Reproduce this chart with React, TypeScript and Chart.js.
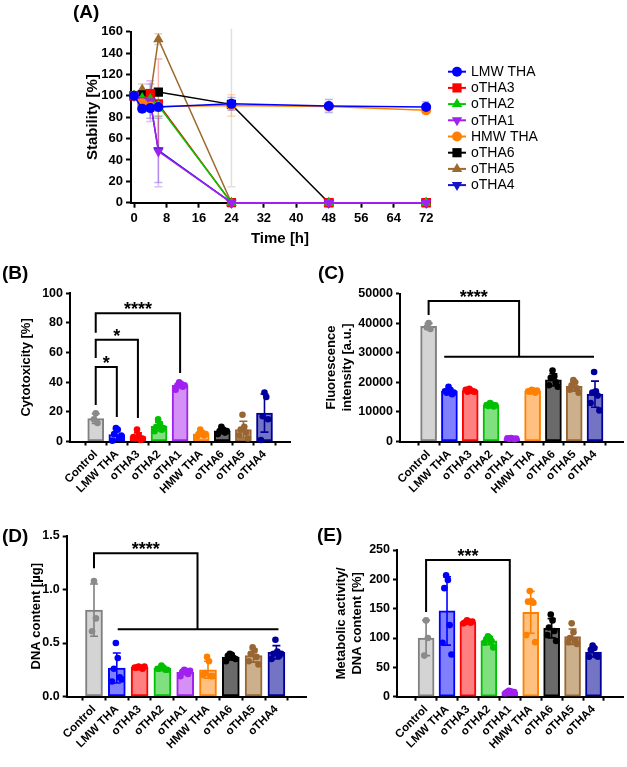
import React, { useEffect, useRef } from "react";
import { Chart, registerables } from "chart.js";

Chart.register(...registerables);

const FONT = "'Liberation Sans', Arial, Helvetica, sans-serif";
Chart.defaults.font.family = FONT;
Chart.defaults.color = "#000";

/* ---------------- (A) stability over time ---------------- */
const HOURS = [0, 2, 4, 6, 24, 48, 72];
const HOUR_TICKS = [0, 8, 16, 24, 32, 40, 48, 56, 64, 72];

const LMW_STAB = [100, 88, 88.5, 89.5, 92.5, 90.5, 89.5];
const LMW_STAB_SD = [0, 3, 3, 4, 6, 6, 5];
const OTHA3_STAB = [100, 95, 102, 92.5, 0, 0, 0];
const OTHA3_STAB_SD = [0, 5, 4, 42, 0, 0, 0];
const OTHA2_STAB = [100, 98, 97, 91, 0, 0, 0];
const OTHA2_STAB_SD = [0, 3, 3, 10, 0, 0, 0];
const OTHA1_STAB = [100, 96, 95, 48, 0, 0, 0];
const OTHA1_STAB_SD = [0, 4, 19, 33, 0, 0, 0];
const HMW_STAB = [100, 93, 90, 90, 91, 90, 86.5];
const HMW_STAB_SD = [0, 3, 3, 3, 10, 4, 4];
const OTHA6_STAB = [100, 101, 102, 103.5, 92, 0, 0];
const OTHA6_STAB_SD = [0, 3, 3, 3, 77, 0, 0];
const OTHA5_STAB = [100, 106, 100, 153, 0, 0, 0];
const OTHA5_STAB_SD = [0, 5, 6, 5, 0, 0, 0];
const OTHA4_STAB = [100, 93, 95, 49, 0, 0, 0];
const OTHA4_STAB_SD = [0, 4, 16, 30, 0, 0, 0];

/* ---------------- (B)-(E) group comparisons ---------------- */
const GROUPS = ["Control", "LMW THA", "oTHA3", "oTHA2", "oTHA1", "HMW THA", "oTHA6", "oTHA5", "oTHA4"];

const CYTOTOXICITY = [
  [19, 12.5, 15],
  [9, 8, 5, 2, 0.5, 4],
  [8, 4, 2, 1, 3, 2],
  [15, 12, 10, 8, 7, 9],
  [40, 39, 38, 37, 35, 38],
  [8, 6, 5, 4, 3, 5],
  [10, 8, 7, 6, 5, 7],
  [18, 10, 8, 6, 4, 2],
  [33, 30, 17, 15, 1],
];

const FLUORESCENCE = [
  [40000, 38000, 38600],
  [18500, 17500, 16500, 16000, 17000, 16500],
  [17800, 17200, 16800, 17000, 17500, 16800],
  [13000, 12500, 12000, 11800, 12300, 12200],
  [1200, 1000, 900, 800, 1100, 1000],
  [17500, 17200, 16800, 16500, 17000, 17200],
  [24000, 22000, 21500, 20000, 19000, 18500],
  [20800, 20000, 19000, 18000, 17500, 16500],
  [23500, 17000, 16500, 15500, 13000, 10500],
];

const DNA_CONTENT = [
  [1.08, 0.73, 0.61],
  [0.5, 0.36, 0.26, 0.18, 0.14, 0.16],
  [0.28, 0.27, 0.27, 0.26, 0.27, 0.28],
  [0.29, 0.27, 0.26, 0.25, 0.26, 0.25],
  [0.25, 0.24, 0.23, 0.21, 0.19, 0.24],
  [0.37, 0.33, 0.22, 0.19, 0.2, 0.19],
  [0.4, 0.39, 0.38, 0.36, 0.33, 0.35],
  [0.46, 0.43, 0.4, 0.37, 0.33, 0.3],
  [0.53, 0.42, 0.4, 0.38, 0.35, 0.4],
];

const METABOLIC_PER_DNA = [
  [130, 100, 70],
  [207, 199, 185, 122, 92, 72],
  [130, 128, 127, 126, 125, 128],
  [103, 100, 98, 95, 92, 84],
  [10, 9, 8, 7, 6, 8],
  [180, 163, 162, 160, 105, 93],
  [140, 130, 118, 112, 105, 95],
  [125, 110, 100, 96, 93, 90],
  [87, 83, 80, 70, 68, 68],
];

/* ---------------- styling ---------------- */
const EDGE = ["#808080", "#0000ff", "#ff0000", "#00c000", "#a020f0", "#ff8000", "#000000", "#996633", "#000099"];
const FILL = ["#d4d4d4", "#8080ff", "#ff8080", "#80e080", "#d490f5", "#ffc080", "#6a6a6a", "#ccb08c", "#7474c4"];
const DOT = ["#8a8a8a", "#0000ff", "#ff0000", "#00c000", "#a020f0", "#ff8000", "#000000", "#996633", "#000099"];

type Marker = "circle" | "rect" | "triangle" | "triangleDown";

const STAB_SERIES: { label: string; values: number[]; sd: number[]; color: string; marker: Marker; layer: number }[] = [
  { label: "LMW THA", values: LMW_STAB, sd: LMW_STAB_SD, color: "#0000ff", marker: "circle", layer: 0 },
  { label: "oTHA3", values: OTHA3_STAB, sd: OTHA3_STAB_SD, color: "#ff0000", marker: "rect", layer: 4 },
  { label: "oTHA2", values: OTHA2_STAB, sd: OTHA2_STAB_SD, color: "#00c800", marker: "triangle", layer: 3 },
  { label: "oTHA1", values: OTHA1_STAB, sd: OTHA1_STAB_SD, color: "#a020f0", marker: "triangleDown", layer: 2 },
  { label: "HMW THA", values: HMW_STAB, sd: HMW_STAB_SD, color: "#ff8000", marker: "circle", layer: 1 },
  { label: "oTHA6", values: OTHA6_STAB, sd: OTHA6_STAB_SD, color: "#000000", marker: "rect", layer: 5 },
  { label: "oTHA5", values: OTHA5_STAB, sd: OTHA5_STAB_SD, color: "#9c6a2c", marker: "triangle", layer: 6 },
  { label: "oTHA4", values: OTHA4_STAB, sd: OTHA4_STAB_SD, color: "#1414c8", marker: "triangleDown", layer: 7 },
];

const MARKER_RADIUS: Record<Marker, number> = { circle: 5, rect: 6.5, triangle: 6, triangleDown: 6 };

function rgba(hex: string, a: number) {
  const n = parseInt(hex.slice(1), 16);
  return `rgba(${(n >> 16) & 255},${(n >> 8) & 255},${n & 255},${a})`;
}

function drawMarker(ctx: CanvasRenderingContext2D, m: Marker, x: number, y: number, color: string) {
  const r = MARKER_RADIUS[m];
  ctx.fillStyle = color;
  ctx.beginPath();
  if (m === "circle") {
    ctx.arc(x, y, r, 0, Math.PI * 2);
  } else if (m === "rect") {
    const s = r / Math.SQRT2;
    ctx.rect(x - s, y - s, 2 * s, 2 * s);
  } else {
    const dir = m === "triangle" ? 1 : -1;
    for (let k = 0; k < 3; k++) {
      const a = (k * 2 * Math.PI) / 3;
      const px = x + Math.sin(a) * r * dir;
      const py = y - Math.cos(a) * r * dir;
      if (k === 0) ctx.moveTo(px, py);
      else ctx.lineTo(px, py);
    }
    ctx.closePath();
  }
  ctx.fill();
}

const axisGrid = { drawOnChartArea: false, drawTicks: true, tickLength: 5, tickColor: "#000", tickWidth: 2 };
const axisBorder = { display: true, color: "#000", width: 2 };

function stabilityConfig(): any {
  const W = 627;
  const H = 250;
  const area = { left: 131, top: 31.7, right: 429, bottom: 202.7 };

  const errorBars = {
    id: "stabilityErrorBars",
    beforeDatasetsDraw(chart: any) {
      const { ctx, chartArea } = chart;
      const x = chart.scales.x;
      const y = chart.scales.y;
      ctx.save();
      ctx.beginPath();
      ctx.rect(chartArea.left, chartArea.top - 3, chartArea.right - chartArea.left, chartArea.bottom - chartArea.top + 3);
      ctx.clip();
      ctx.lineWidth = 1.5;
      [...STAB_SERIES].reverse().forEach((s) => {
        ctx.strokeStyle = rgba(s.color, s.color === "#000000" ? 0.12 : 0.3);
        HOURS.forEach((h, i) => {
          const d = s.sd[i];
          if (!d) return;
          const px = x.getPixelForValue(h);
          const t = y.getPixelForValue(s.values[i] + d);
          const b = y.getPixelForValue(s.values[i] - d);
          ctx.beginPath();
          ctx.moveTo(px, t);
          ctx.lineTo(px, b);
          ctx.moveTo(px - 4, t);
          ctx.lineTo(px + 4, t);
          ctx.moveTo(px - 4, b);
          ctx.lineTo(px + 4, b);
          ctx.stroke();
        });
      });
      ctx.restore();
    },
  };

  const legend = {
    id: "stabilityLegend",
    afterDraw(chart: any) {
      const ctx: CanvasRenderingContext2D = chart.ctx;
      ctx.save();
      ctx.font = `14px ${FONT}`;
      ctx.textBaseline = "middle";
      ctx.textAlign = "left";
      STAB_SERIES.forEach((s, i) => {
        const yy = 71.7 + i * 16.2;
        ctx.strokeStyle = s.color;
        ctx.lineWidth = 2;
        ctx.beginPath();
        ctx.moveTo(448, yy);
        ctx.lineTo(466, yy);
        ctx.stroke();
        drawMarker(ctx, s.marker, 457, yy, s.color);
        ctx.fillStyle = "#000";
        ctx.fillText(s.label, 471, yy + 0.5);
      });
      ctx.restore();
    },
  };

  return {
    type: "line",
    data: {
      datasets: STAB_SERIES.map((s) => ({
        label: s.label,
        data: HOURS.map((h, i) => ({ x: h, y: s.values[i] })),
        borderColor: s.color,
        backgroundColor: s.color,
        borderWidth: 1.5,
        pointStyle: s.marker === "circle" ? "circle" : s.marker === "rect" ? "rect" : "triangle",
        pointRotation: s.marker === "triangleDown" ? 180 : 0,
        pointRadius: MARKER_RADIUS[s.marker],
        pointBorderWidth: 0,
        order: s.layer,
        clip: 8,
      })),
    },
    options: {
      animation: false,
      responsive: false,
      events: [],
      layout: { padding: { left: 0, top: area.top, right: W - area.right, bottom: 0 } },
      plugins: { legend: { display: false }, tooltip: { enabled: false } },
      scales: {
        x: {
          type: "linear",
          min: -0.75,
          max: 72.7,
          afterFit: (s: any) => {
            s.height = H - area.bottom;
          },
          afterBuildTicks: (s: any) => {
            s.ticks = HOUR_TICKS.map((v) => ({ value: v }));
          },
          ticks: { font: { size: 13, weight: "bold" }, color: "#000", padding: 3, maxRotation: 0 },
          grid: axisGrid,
          border: axisBorder,
          title: { display: true, text: "Time [h]", font: { size: 15, weight: "bold" }, color: "#000", padding: { top: 0, bottom: 2 } },
        },
        y: {
          min: 0,
          max: 160,
          afterFit: (s: any) => {
            s.width = area.left;
          },
          ticks: { stepSize: 20, font: { size: 13, weight: "bold" }, color: "#000", padding: 3 },
          grid: axisGrid,
          border: axisBorder,
          title: { display: true, text: "Stability [%]", font: { size: 15, weight: "bold" }, color: "#000", padding: { top: 84, bottom: 0 } },
        },
      },
    },
    plugins: [errorBars, legend],
  };
}

type Bracket = { stars: string; path: number[][]; span?: number[] };

type BarPanel = {
  reps: number[][];
  width: number;
  height: number;
  area: { left: number; top: number; right: number; bottom: number };
  xMin: number;
  xMax: number;
  yMax: number;
  yStep: number;
  decimals: number;
  title: string | string[];
  titleX: number;
  barWidth: number;
  brackets: Bracket[];
};

const mean = (a: number[]) => a.reduce((s, v) => s + v, 0) / a.length;
const stdev = (a: number[]) => {
  const m = mean(a);
  return Math.sqrt(a.reduce((s, v) => s + (v - m) * (v - m), 0) / (a.length - 1));
};

function spreadOffset(j: number, n: number) {
  const slots: number[] = [];
  for (let k = 0; k < n; k++) slots.push(k % 2 === 1 ? (k + 1) / 2 : -k / 2);
  const c = mean(slots);
  return (slots[j] - c) * 0.085;
}

function barConfig(p: BarPanel): any {
  const means = p.reps.map(mean);
  const sds = p.reps.map(stdev);
  const dots: { x: number; y: number }[] = [];
  const dotColors: string[] = [];
  p.reps.forEach((r, i) =>
    r.forEach((v, j) => {
      dots.push({ x: i + spreadOffset(j, r.length), y: v });
      dotColors.push(DOT[i]);
    })
  );

  const extras = {
    id: "groupExtras",
    afterDatasetDraw(chart: any, args: any) {
      if (args.index !== 0) return;
      const ctx: CanvasRenderingContext2D = chart.ctx;
      const x = chart.scales.x;
      const y = chart.scales.y;
      ctx.save();
      ctx.lineWidth = 1.6;
      means.forEach((m, i) => {
        const px = x.getPixelForValue(i);
        const t = y.getPixelForValue(m + sds[i]);
        const b = y.getPixelForValue(Math.max(0, m - sds[i]));
        ctx.strokeStyle = EDGE[i];
        ctx.beginPath();
        ctx.moveTo(px, t);
        ctx.lineTo(px, b);
        ctx.moveTo(px - 4, t);
        ctx.lineTo(px + 4, t);
        ctx.moveTo(px - 4, b);
        ctx.lineTo(px + 4, b);
        ctx.stroke();
      });
      ctx.restore();
    },
    afterDraw(chart: any) {
      const ctx: CanvasRenderingContext2D = chart.ctx;
      const x = chart.scales.x;
      const y = chart.scales.y;
      ctx.save();
      ctx.strokeStyle = "#000";
      ctx.fillStyle = "#000";
      ctx.lineWidth = 2;
      ctx.lineJoin = "miter";
      ctx.font = `bold 18px ${FONT}`;
      ctx.textAlign = "center";
      ctx.textBaseline = "alphabetic";
      p.brackets.forEach((br) => {
        ctx.beginPath();
        br.path.forEach(([vx, vy], k) => {
          const px = x.getPixelForValue(vx);
          const py = y.getPixelForValue(vy);
          if (k === 0) ctx.moveTo(px, py);
          else ctx.lineTo(px, py);
        });
        if (br.span) {
          const [a, b, v] = br.span;
          ctx.moveTo(x.getPixelForValue(a), y.getPixelForValue(v));
          ctx.lineTo(x.getPixelForValue(b), y.getPixelForValue(v));
        }
        ctx.stroke();
        const lx = x.getPixelForValue((br.path[1][0] + br.path[2][0]) / 2);
        const ly = y.getPixelForValue(br.path[1][1]);
        ctx.fillText(br.stars, lx, ly + 2);
      });
      ctx.restore();
    },
  };

  return {
    type: "bar",
    data: {
      datasets: [
        {
          type: "bar",
          data: means.map((m, i) => ({ x: i, y: m })),
          backgroundColor: FILL,
          borderColor: EDGE,
          borderWidth: 2,
          borderSkipped: false,
          barThickness: p.barWidth,
          order: 2,
        },
        {
          type: "scatter",
          data: dots,
          pointRadius: 3.3,
          pointBackgroundColor: dotColors,
          pointBorderWidth: 0,
          order: 1,
          clip: 8,
        },
      ],
    },
    options: {
      animation: false,
      responsive: false,
      events: [],
      layout: { padding: { left: 0, top: p.area.top, right: p.width - p.area.right, bottom: 0 } },
      plugins: { legend: { display: false }, tooltip: { enabled: false } },
      scales: {
        x: {
          type: "linear",
          min: p.xMin,
          max: p.xMax,
          afterFit: (s: any) => {
            s.height = p.height - p.area.bottom;
          },
          afterBuildTicks: (s: any) => {
            s.ticks = GROUPS.map((_, i) => ({ value: i }));
          },
          ticks: {
            callback: (v: number) => GROUPS[Math.round(v)],
            minRotation: 45,
            maxRotation: 45,
            autoSkip: false,
            font: { size: 11.5, weight: "bold" },
            color: "#000",
            padding: 2,
          },
          grid: { ...axisGrid, tickLength: 4 },
          border: axisBorder,
        },
        y: {
          min: 0,
          max: p.yMax,
          afterFit: (s: any) => {
            s.width = p.area.left;
          },
          ticks: {
            stepSize: p.yStep,
            callback: (v: number) => v.toFixed(p.decimals),
            font: { size: 12.5, weight: "bold" },
            color: "#000",
            padding: 3,
          },
          grid: { ...axisGrid, tickLength: 4 },
          border: axisBorder,
          title: {
            display: true,
            text: p.title,
            font: { size: 13, weight: "bold", lineHeight: 1.23 },
            color: "#000",
            padding: { top: p.titleX - 8, bottom: 0 },
          },
        },
      },
    },
    plugins: [extras],
  };
}

const PANEL_B: BarPanel = {
  reps: CYTOTOXICITY,
  width: 310,
  height: 270,
  area: { left: 70, top: 43.3, right: 290, bottom: 191.5 },
  xMin: -0.64,
  xMax: 8.63,
  yMax: 100,
  yStep: 20,
  decimals: 0,
  title: "Cytotoxicity [%]",
  titleX: 26,
  barWidth: 16,
  brackets: [
    { stars: "*", path: [[0, 24.7], [0, 50.3], [1, 50.3], [1, 16.6]] },
    { stars: "*", path: [[0, 56.4], [0, 68.6], [2, 68.6], [2, 15.9]] },
    { stars: "****", path: [[0, 73.3], [0, 86.6], [4, 86.6], [4, 46.3]] },
  ],
};

const PANEL_C: BarPanel = {
  reps: FLUORESCENCE,
  width: 317,
  height: 270,
  area: { left: 90, top: 43.5, right: 315, bottom: 191.5 },
  xMin: -0.78,
  xMax: 8.75,
  yMax: 50000,
  yStep: 10000,
  decimals: 0,
  title: ["Fluorescence", "intensity [a.u.]"],
  titleX: 21,
  barWidth: 16,
  brackets: [{ stars: "****", path: [[0, 42740], [0, 47460], [4.35, 47460], [4.35, 28650]], span: [0.75, 7.95, 28650] }],
};

const PANEL_D: BarPanel = {
  reps: DNA_CONTENT,
  width: 310,
  height: 247,
  area: { left: 66.7, top: 16, right: 306.7, bottom: 176.5 },
  xMin: -0.614,
  xMax: 8.715,
  yMax: 1.5,
  yStep: 0.5,
  decimals: 1,
  title: "DNA content [µg]",
  titleX: 36,
  barWidth: 17,
  brackets: [{ stars: "****", path: [[0, 1.198], [0, 1.338], [4.54, 1.338], [4.54, 0.628]], span: [1.04, 8.09, 0.628] }],
};

const PANEL_E: BarPanel = {
  reps: METABOLIC_PER_DNA,
  width: 317,
  height: 247,
  area: { left: 87, top: 30, right: 315, bottom: 176.7 },
  xMin: -0.79,
  xMax: 8.81,
  yMax: 250,
  yStep: 50,
  decimals: 0,
  title: ["Metabolic activity/", "DNA content [%]"],
  titleX: 31,
  barWidth: 16,
  brackets: [{ stars: "***", path: [[0, 144.5], [0, 233], [4, 233], [4, 20]] }],
};

function ChartCanvas({ build, left, top, width, height }: { build: () => any; left: number; top: number; width: number; height: number }) {
  const ref = useRef<HTMLCanvasElement>(null);
  useEffect(() => {
    const chart = new Chart(ref.current as HTMLCanvasElement, build());
    return () => chart.destroy();
  }, []);
  return <canvas ref={ref} width={width} height={height} style={{ position: "absolute", left, top, width, height }} />;
}

function PanelTag({ text, left, top }: { text: string; left: number; top: number }) {
  return (
    <div style={{ position: "absolute", left, top, font: `bold 19px ${FONT}`, lineHeight: "19px", color: "#000", whiteSpace: "nowrap" }}>
      {text}
    </div>
  );
}

export default function App() {
  return (
    <div style={{ position: "absolute", left: 0, top: 0, width: 627, height: 767, background: "#fff", overflow: "hidden" }}>
      <ChartCanvas build={stabilityConfig} left={0} top={0} width={627} height={250} />
      <ChartCanvas build={() => barConfig(PANEL_B)} left={0} top={250} width={310} height={270} />
      <ChartCanvas build={() => barConfig(PANEL_C)} left={310} top={250} width={317} height={270} />
      <ChartCanvas build={() => barConfig(PANEL_D)} left={0} top={520} width={310} height={247} />
      <ChartCanvas build={() => barConfig(PANEL_E)} left={310} top={520} width={317} height={247} />
      <PanelTag text="(A)" left={73} top={2} />
      <PanelTag text="(B)" left={2} top={263} />
      <PanelTag text="(C)" left={318} top={263} />
      <PanelTag text="(D)" left={2} top={526} />
      <PanelTag text="(E)" left={317} top={525} />
    </div>
  );
}
